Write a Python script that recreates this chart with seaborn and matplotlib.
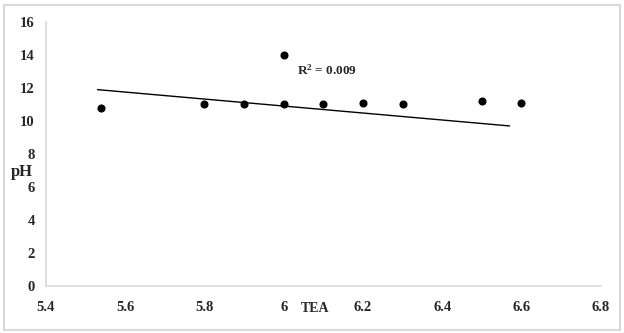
import matplotlib
matplotlib.use('Agg')
import matplotlib.pyplot as plt
import seaborn as sns
import pandas as pd

# -----------------------------
# Data
# -----------------------------
tea = [5.54, 5.8, 5.9, 6.0, 6.0, 6.1, 6.2, 6.3, 6.5, 6.6]
ph = [10.8, 11.0, 11.0, 11.0, 14.0, 11.0, 11.1, 11.0, 11.2, 11.1]

trend_x = [5.53, 6.57]
trend_y = [11.9, 9.7]

x_ticks = [5.4, 5.6, 5.8, 6.0, 6.2, 6.4, 6.6, 6.8]
x_tick_labels = ['5.4', '5.6', '5.8', '6', '6.2', '6.4', '6.6', '6.8']
y_ticks = [0, 2, 4, 6, 8, 10, 12, 14, 16]
r2_label = 'R$^2$ = 0.009'

df = pd.DataFrame({'TEA': tea, 'pH': ph})
trend = pd.DataFrame({'TEA': trend_x, 'pH': trend_y})

# -----------------------------
# Style
# -----------------------------
sns.set_style('white')
plt.rcParams['font.family'] = ['Liberation Serif', 'DejaVu Serif']
plt.rcParams['mathtext.fontset'] = 'custom'
plt.rcParams['mathtext.rm'] = 'Liberation Serif:bold'
plt.rcParams['mathtext.it'] = 'Liberation Serif:bold'
plt.rcParams['mathtext.bf'] = 'Liberation Serif:bold'

fig = plt.figure(figsize=(6.24, 3.33), dpi=100)
ax = fig.add_axes([0.0737, 0.1411, 0.889, 0.7929])

sns.scatterplot(x='TEA', y='pH', data=df, ax=ax, color='black', s=34,
                edgecolor='black', linewidth=0, zorder=3)
sns.lineplot(x='TEA', y='pH', data=trend, ax=ax, color='black', lw=1.0)

ax.set_xlim(5.4, 6.8)
ax.set_ylim(0, 16)
ax.set_xticks(x_ticks)
ax.set_xticklabels(x_tick_labels)
ax.set_yticks(y_ticks)
ax.tick_params(axis='both', length=0, labelsize=10.5)
ax.tick_params(axis='y', pad=8)
ax.tick_params(axis='x', pad=11)
for lbl in ax.get_xticklabels() + ax.get_yticklabels():
    lbl.set_fontweight('bold')

for side in ['top', 'right']:
    ax.spines[side].set_visible(False)
for side in ['left', 'bottom']:
    ax.spines[side].set_color('#d9d9d9')
    ax.spines[side].set_linewidth(1.2)

ax.set_xlabel('')
ax.set_ylabel('')
fig.text(22 / 624, 1 - 172 / 333, 'pH', ha='center', va='center',
         fontsize=12, fontweight='bold')
fig.text(315 / 624, 1 - 309 / 333, 'TEA', ha='center', va='center',
         fontsize=10, fontweight='bold')

ax.text(6.034, 13.1, r2_label, ha='left', va='center', fontsize=9.5,
        fontweight='bold')

# light border around the whole figure
fig.add_artist(plt.Rectangle((0.007, 0.01), 0.986, 0.975, transform=fig.transFigure,
                             fill=False, edgecolor='#d9d9d9', lw=1.5))

plt.savefig('out.png', dpi=100)
